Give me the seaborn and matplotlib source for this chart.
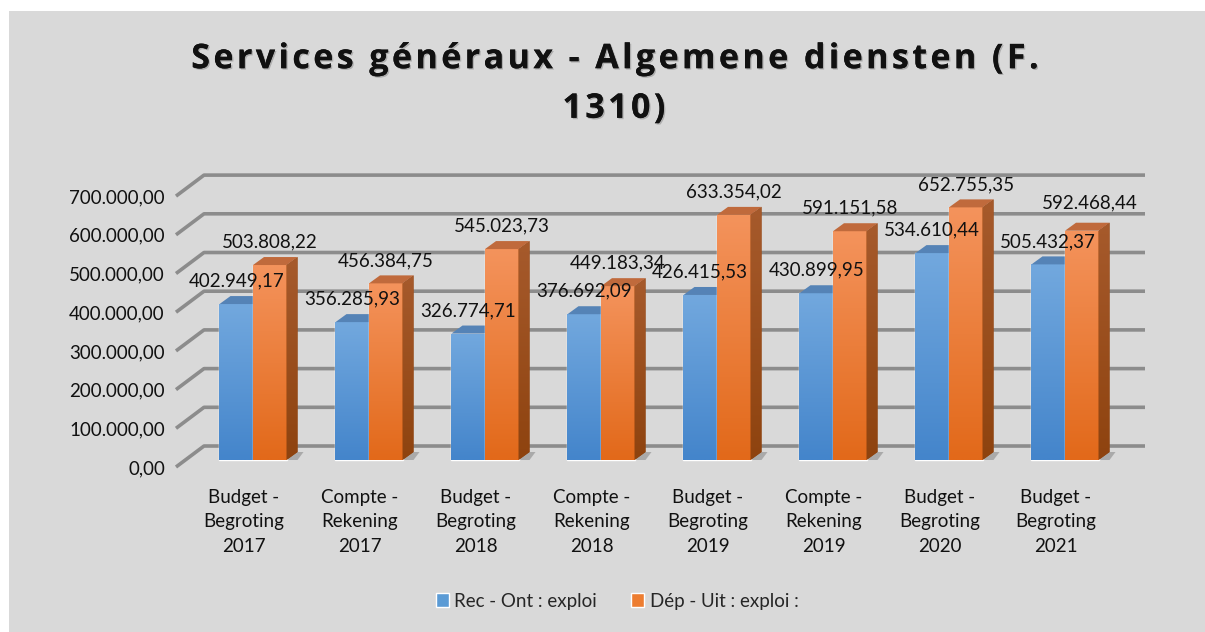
import numpy as np
import pandas as pd
import matplotlib
matplotlib.use("Agg")
import matplotlib.pyplot as plt
import matplotlib.patheffects as pe
from matplotlib.patches import Polygon, Rectangle
from matplotlib.transforms import ScaledTranslation
from matplotlib.colors import to_rgb
import seaborn as sns

categories = ["Budget -\nBegroting\n2017", "Compte -\nRekening\n2017",
              "Budget -\nBegroting\n2018", "Compte -\nRekening\n2018",
              "Budget -\nBegroting\n2019", "Compte -\nRekening\n2019",
              "Budget -\nBegroting\n2020", "Budget -\nBegroting\n2021"]
rec = [402949.17, 356285.93, 326774.71, 376692.09, 426415.53, 430899.95, 534610.44, 505432.37]
dep = [503808.22, 456384.75, 545023.73, 449183.34, 633354.02, 591151.58, 652755.35, 592468.44]
series = ["Rec - Ont : exploi", "Dép - Uit : exploi :"]
yticks = [0, 100000, 200000, 300000, 400000, 500000, 600000, 700000]
title = "Services généraux - Algemene diensten (F.\n1310)"

df = pd.DataFrame({
    "cat": categories * 2,
    "val": rec + dep,
    "serie": [series[0]] * len(rec) + [series[1]] * len(dep),
})

def fmt(v):
    s = f"{v:,.2f}"
    return s.replace(",", " ").replace(".", ",").replace(" ", ".")

sns.set_style("white")
plt.rcParams["font.family"] = ["Lato", "DejaVu Sans"]

W, H, DPI = 1205, 632, 100
fig = plt.figure(figsize=(W / DPI, H / DPI), dpi=DPI, facecolor="white")
fig.patches.append(Rectangle((9 / W, 0), 1, 1 - 11 / H, transform=fig.transFigure,
                             facecolor="#d9d9d9", edgecolor="none", zorder=-10))

# axes placed in pixels: left 185, right 1145, bottom 467, top 175
ax = fig.add_axes([185 / W, 1 - 467 / H, (1145 - 185) / W, (467 - 175) / H])
ax.set_facecolor("none")

blue = "#5b9bd5"
orange = "#ed7d31"
sns.barplot(data=df, x="cat", y="val", hue="serie", palette=[blue, orange],
            width=0.578, saturation=1, legend=False, ax=ax, zorder=3)

xl, xr = -0.5862, 7.6897
pxx = 1 / 116.0          # data units per pixel
pxy = 700000 / 271.0

for s in ax.spines.values():
    s.set_visible(False)

# grid: front diagonal + back wall lines
for v in yticks:
    xs = [xl - 9 * pxx, xl + 19 * pxx, xr]
    ys = [v - 7 * pxy, v + 14 * pxy, v + 14 * pxy]
    ax.plot(xs, ys, color="#8c8c8c", lw=2.6, zorder=1, clip_on=False,
            solid_capstyle="butt")

# 3D faces + gradients
grad_cols = {0: ("#4485cb", "#72a8de"), 1: ("#e2691a", "#f4935c")}
side_cols = {0: ("#33659a", "#4a7cb0"), 1: ("#8e430f", "#a65a2c")}
top_cols = {0: "#5583b6", 1: "#c06a3c"}
dx, dy = 11 * pxx, 8 * pxy

for k, cont in enumerate(ax.containers):
    base = 3 + k
    for p in cont.patches:
        x, w, h = p.get_x(), p.get_width(), p.get_height()
        p.set_zorder(base)
        lo, hi = (np.array(to_rgb(c)) for c in grad_cols[k])
        g = np.linspace(0, 1, 64)[:, None, None] * (hi - lo) + lo
        im = ax.imshow(g, extent=(x, x + w, 0, h), origin="lower", aspect="auto",
                       zorder=base + 0.05, interpolation="bilinear")
        im.set_clip_path(p)
        slo, shi = (np.array(to_rgb(c)) for c in side_cols[k])
        side = Polygon([(x + w, 0), (x + w + dx, dy), (x + w + dx, h + dy), (x + w, h)],
                       closed=True, facecolor=side_cols[k][0], edgecolor="none",
                       zorder=base + 0.1)
        ax.add_patch(side)
        sg = np.linspace(0, 1, 64)[:, None, None] * (shi - slo) + slo
        im2 = ax.imshow(sg, extent=(x + w, x + w + dx, 0, h + dy), origin="lower",
                        aspect="auto", zorder=base + 0.12, interpolation="bilinear")
        im2.set_clip_path(side)
        top = Polygon([(x, h), (x + w, h), (x + w + dx, h + dy), (x + dx, h + dy)],
                      closed=True, facecolor=top_cols[k], edgecolor="none",
                      zorder=base + 0.1)
        ax.add_patch(top)
        # floor shadow
        sh = Polygon([(x, 0), (x + w + dx, 0), (x + w + dx + 6 * pxx, dy),
                      (x + 4 * pxx, dy)], closed=True, facecolor="#555555",
                     alpha=0.35, edgecolor="none", zorder=2)
        ax.add_patch(sh)

ax.set_xlim(xl, xr)
ax.set_ylim(-18088, 736434)

# value labels
for k, cont in enumerate(ax.containers):
    vals = rec if k == 0 else dep
    for i, p in enumerate(cont.patches):
        cx = p.get_x() + p.get_width() / 2
        ty = p.get_height() + 23 * pxy
        if k == 1 and i == len(vals) - 1:
            cx += 8 * pxx
            ty += 5 * pxy
        ax.text(cx, ty, fmt(vals[i]), ha="center", va="center", fontsize=13.5,
                color="#111111", zorder=10)

# ticks
ax.set_yticks(yticks, [fmt(v) for v in yticks])
ax.tick_params(axis="y", length=0, pad=8, labelsize=13.5, labelcolor="#111111")
ax.tick_params(axis="x", length=0, pad=10.5, labelsize=13.5, labelcolor="#111111")
ax.set_xlabel("")
ax.set_ylabel("")
off = ScaledTranslation(-9 / DPI, -7 / DPI, fig.dpi_scale_trans)
for lab in ax.get_yticklabels() + ax.get_xticklabels():
    lab.set_transform(lab.get_transform() + off)
    lab.set_linespacing(1.55)

# title, with letter spacing via hair spaces
spaced = "\n".join("\u200a".join(line) for line in title.split("\n"))
fig.text(614 / W, 1 - 84 / H, spaced,
         ha="center", va="center", fontsize=24.5, fontweight="bold", color="#111111",
         linespacing=1.6, family=["Open Sans", "DejaVu Sans"],
         path_effects=[pe.withSimplePatchShadow(offset=(1, -1), alpha=0.2),
                       pe.Normal()])

# legend
handles = [Rectangle((0, 0), 1, 1, facecolor=blue), Rectangle((0, 0), 1, 1, facecolor=orange)]
fig.legend(handles, series, loc="center", bbox_to_anchor=(617 / W, 1 - 601 / H),
           ncol=2, frameon=False, fontsize=13.5, handlelength=0.7, handleheight=0.7,
           handletextpad=0.3, columnspacing=1.8)

fig.savefig("out.png", dpi=DPI, facecolor=fig.get_facecolor())
